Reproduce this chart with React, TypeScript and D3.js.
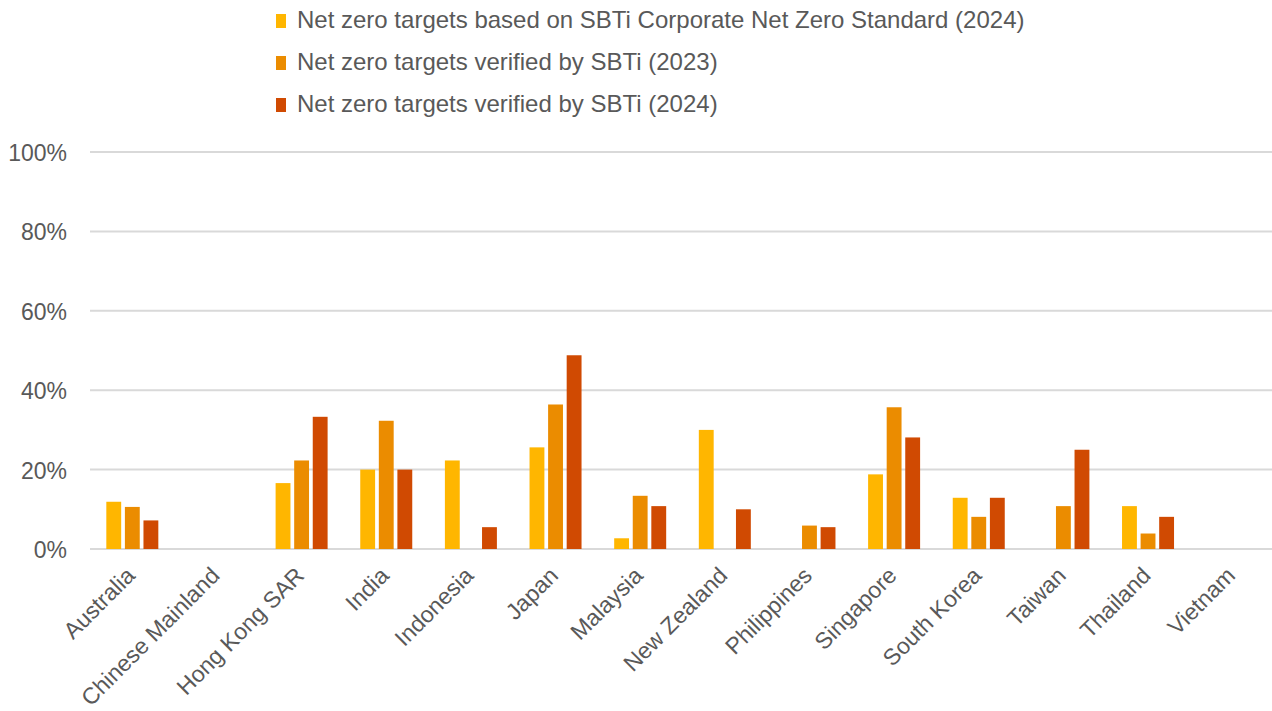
import React, { useEffect, useRef } from 'react';
import * as d3 from 'd3';

const countries = [
  'Australia', 'Chinese Mainland', 'Hong Kong SAR', 'India', 'Indonesia', 'Japan', 'Malaysia',
  'New Zealand', 'Philippines', 'Singapore', 'South Korea', 'Taiwan', 'Thailand', 'Vietnam',
];
const seriesNames = [
  'Net zero targets based on SBTi Corporate Net Zero Standard (2024)',
  'Net zero targets verified by SBTi (2023)',
  'Net zero targets verified by SBTi (2024)',
];
const standard2024 = [11.9, 0, 16.6, 20, 22.3, 25.6, 2.7, 30, 0, 18.8, 12.9, 0, 10.8, 0];
const verified2023 = [10.6, 0, 22.3, 32.3, 0, 36.4, 13.4, 0, 5.9, 35.7, 8.1, 10.8, 3.9, 0];
const verified2024 = [7.2, 0, 33.3, 20, 5.5, 48.8, 10.8, 10, 5.5, 28.1, 12.9, 25, 8.1, 0];
const yTicks = [0, 20, 40, 60, 80, 100];
const colors = ['#FFB600', '#EB8C00', '#D04A02'];

const W = 1272;
const H = 711;
const FONT = '"Liberation Sans", Arial, sans-serif';

function App() {
  const svgRef = useRef<SVGSVGElement>(null);

  useEffect(() => {
    document.body.style.margin = '0';
    const svg = d3.select(svgRef.current);
    svg.selectAll('*').remove();

    const left = 90, right = 1275, top = 152, bottom = 549;
    const x = d3.scaleBand().domain(countries).range([left, right]);
    const inner = d3.scaleBand().domain(['0', '1', '2']).range([0, 52]).paddingInner(0.2);
    const y = d3.scaleLinear().domain([0, 100]).range([bottom, top]);

    // gridlines
    svg.append('g')
      .selectAll('line')
      .data(yTicks)
      .enter()
      .append('line')
      .attr('x1', left)
      .attr('x2', W)
      .attr('y1', d => y(d))
      .attr('y2', d => y(d))
      .attr('stroke', '#d9d9d9')
      .attr('stroke-width', 2);

    // y labels
    svg.append('g')
      .selectAll('text')
      .data(yTicks)
      .enter()
      .append('text')
      .attr('x', 67)
      .attr('y', d => y(d) + 9)
      .attr('text-anchor', 'end')
      .attr('font-family', FONT)
      .attr('font-size', 23)
      .attr('fill', '#595959')
      .text(d => d + '%');

    const series = [standard2024, verified2023, verified2024];
    series.forEach((vals, si) => {
      svg.append('g')
        .selectAll('rect')
        .data(vals.map((v, i) => ({ c: countries[i], v })).filter(d => d.v > 0))
        .enter()
        .append('rect')
        .attr('x', d => (x(d.c) as number) + x.bandwidth() / 2 - 26 + (inner(String(si)) as number))
        .attr('y', d => y(d.v))
        .attr('width', inner.bandwidth())
        .attr('height', d => bottom - y(d.v))
        .attr('fill', colors[si]);
    });

    // x labels
    svg.append('g')
      .selectAll('text')
      .data(countries)
      .enter()
      .append('text')
      .attr('transform', d => `translate(${(x(d) as number) + x.bandwidth() / 2 + 4},${577}) rotate(-45)`)
      .attr('text-anchor', 'end')
      .attr('font-family', FONT)
      .attr('font-size', 23)
      .attr('fill', '#595959')
      .text(d => d);

    // legend
    const legend = svg.append('g').attr('transform', 'translate(276,0)');
    seriesNames.forEach((name, i) => {
      const cy = 21 + i * 42;
      legend.append('rect')
        .attr('x', 0)
        .attr('y', cy - 7)
        .attr('width', 10)
        .attr('height', 14)
        .attr('fill', colors[i]);
      legend.append('text')
        .attr('x', 21)
        .attr('y', cy + 7)
        .attr('font-family', FONT)
        .attr('font-size', 24)
        .attr('fill', '#595959')
        .text(name);
    });
  }, []);

  return (
    <div>
      <svg ref={svgRef} width={W} height={H} style={{ display: 'block', background: '#fff' }}></svg>
    </div>
  );
}

export default App;
